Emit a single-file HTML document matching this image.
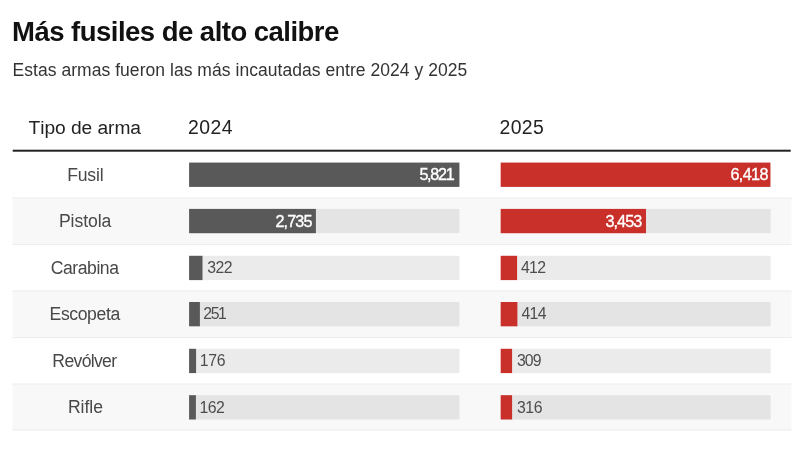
<!DOCTYPE html>
<html><head><meta charset="utf-8">
<style>
html,body{margin:0;padding:0;background:#fff;}
body{width:800px;height:449px;overflow:hidden;}
svg{display:block;will-change:transform;transform:translateZ(0);filter:blur(0.35px);}
text{font-family:"Liberation Sans",sans-serif;white-space:pre;font-kerning:none;}
</style></head><body>
<svg width="800" height="449" viewBox="0 0 800 449">
<rect x="12.50" y="198.00" width="779.00" height="46.50" fill="#f8f8f8"/>
<rect x="12.50" y="291.00" width="779.00" height="46.50" fill="#f8f8f8"/>
<rect x="12.50" y="384.00" width="779.00" height="46.00" fill="#f8f8f8"/>
<rect x="12.50" y="197.50" width="779.00" height="1.00" fill="#ececec"/>
<rect x="12.50" y="244.00" width="779.00" height="1.00" fill="#ececec"/>
<rect x="12.50" y="290.50" width="779.00" height="1.00" fill="#ececec"/>
<rect x="12.50" y="337.00" width="779.00" height="1.00" fill="#ececec"/>
<rect x="12.50" y="383.50" width="779.00" height="1.00" fill="#ececec"/>
<rect x="12.50" y="429.50" width="779.00" height="1.00" fill="#ececec"/>
<rect x="12.70" y="149.70" width="778.00" height="2.00" fill="#222"/>
<text x="12.06" y="41.00" font-size="27.5" fill="#111" letter-spacing="-0.521" font-weight="bold">Más fusiles de alto calibre</text>
<text x="12.56" y="76.00" font-size="17.5" fill="#333" letter-spacing="0.043">Estas armas fueron las más incautadas entre 2024 y 2025</text>
<text x="28.57" y="133.90" font-size="19.2" fill="#222" letter-spacing="-0.053">Tipo de arma</text>
<text x="188.02" y="134.00" font-size="19.4" fill="#222" letter-spacing="0.429">2024</text>
<text x="499.52" y="134.00" font-size="19.4" fill="#222" letter-spacing="0.378">2025</text>
<text x="67.26" y="180.70" font-size="17.6" fill="#484848" letter-spacing="-0.210">Fusil</text>
<text x="58.96" y="227.20" font-size="17.6" fill="#484848" letter-spacing="-0.064">Pistola</text>
<text x="50.71" y="273.50" font-size="17.6" fill="#484848" letter-spacing="-0.447">Carabina</text>
<text x="49.56" y="320.00" font-size="17.6" fill="#484848" letter-spacing="-0.391">Escopeta</text>
<text x="52.36" y="366.80" font-size="17.6" fill="#484848" letter-spacing="-0.673">Revólver</text>
<text x="67.96" y="413.30" font-size="17.6" fill="#484848" letter-spacing="-0.046">Rifle</text>
<rect x="189.10" y="162.60" width="270.30" height="24.30" fill="rgba(0,0,0,0.08)"/>
<rect x="500.70" y="162.60" width="270.00" height="24.30" fill="rgba(0,0,0,0.08)"/>
<rect x="189.10" y="162.60" width="270.30" height="24.30" fill="#595959"/>
<rect x="500.70" y="162.60" width="269.70" height="24.30" fill="#c9302a"/>
<rect x="189.10" y="208.90" width="270.30" height="24.30" fill="rgba(0,0,0,0.08)"/>
<rect x="500.70" y="208.90" width="270.00" height="24.30" fill="rgba(0,0,0,0.08)"/>
<rect x="189.10" y="208.90" width="126.80" height="24.30" fill="#595959"/>
<rect x="500.70" y="208.90" width="145.30" height="24.30" fill="#c9302a"/>
<rect x="189.10" y="255.80" width="270.30" height="24.30" fill="rgba(0,0,0,0.08)"/>
<rect x="500.70" y="255.80" width="270.00" height="24.30" fill="rgba(0,0,0,0.08)"/>
<rect x="189.10" y="255.80" width="13.40" height="24.30" fill="#595959"/>
<rect x="500.70" y="255.80" width="16.40" height="24.30" fill="#c9302a"/>
<rect x="189.10" y="302.00" width="270.30" height="24.30" fill="rgba(0,0,0,0.08)"/>
<rect x="500.70" y="302.00" width="270.00" height="24.30" fill="rgba(0,0,0,0.08)"/>
<rect x="189.10" y="302.00" width="10.80" height="24.30" fill="#595959"/>
<rect x="500.70" y="302.00" width="16.70" height="24.30" fill="#c9302a"/>
<rect x="189.10" y="348.80" width="270.30" height="24.30" fill="rgba(0,0,0,0.08)"/>
<rect x="500.70" y="348.80" width="270.00" height="24.30" fill="rgba(0,0,0,0.08)"/>
<rect x="189.10" y="348.80" width="7.00" height="24.30" fill="#595959"/>
<rect x="500.70" y="348.80" width="11.40" height="24.30" fill="#c9302a"/>
<rect x="189.10" y="395.20" width="270.30" height="24.30" fill="rgba(0,0,0,0.08)"/>
<rect x="500.70" y="395.20" width="270.00" height="24.30" fill="rgba(0,0,0,0.08)"/>
<rect x="189.10" y="395.20" width="6.80" height="24.30" fill="#595959"/>
<rect x="500.70" y="395.20" width="11.40" height="24.30" fill="#c9302a"/>
<text x="419.45" y="180.00" font-size="16.2" fill="#fff" letter-spacing="-1.325" stroke="#fff" stroke-width="0.35">5,821</text>
<text x="730.38" y="180.00" font-size="16.2" fill="#fff" letter-spacing="-0.603" stroke="#fff" stroke-width="0.35">6,418</text>
<text x="275.39" y="226.60" font-size="16.2" fill="#fff" letter-spacing="-0.861" stroke="#fff" stroke-width="0.35">2,735</text>
<text x="605.58" y="226.60" font-size="16.2" fill="#fff" letter-spacing="-0.978" stroke="#fff" stroke-width="0.35">3,453</text>
<text x="207.20" y="272.80" font-size="15.8" fill="#4d4d4d" letter-spacing="-0.483">322</text>
<text x="521.04" y="272.80" font-size="15.8" fill="#4d4d4d" letter-spacing="-0.702">412</text>
<text x="203.31" y="319.30" font-size="15.8" fill="#4d4d4d" letter-spacing="-1.448">251</text>
<text x="521.44" y="319.30" font-size="15.8" fill="#4d4d4d" letter-spacing="-0.668">414</text>
<text x="199.80" y="366.00" font-size="15.8" fill="#4d4d4d" letter-spacing="-0.282">176</text>
<text x="517.00" y="366.00" font-size="15.8" fill="#4d4d4d" letter-spacing="-0.956">309</text>
<text x="199.50" y="412.60" font-size="15.8" fill="#4d4d4d" letter-spacing="-0.532">162</text>
<text x="517.00" y="412.60" font-size="15.8" fill="#4d4d4d" letter-spacing="-0.433">316</text>
</svg>
</body></html>
